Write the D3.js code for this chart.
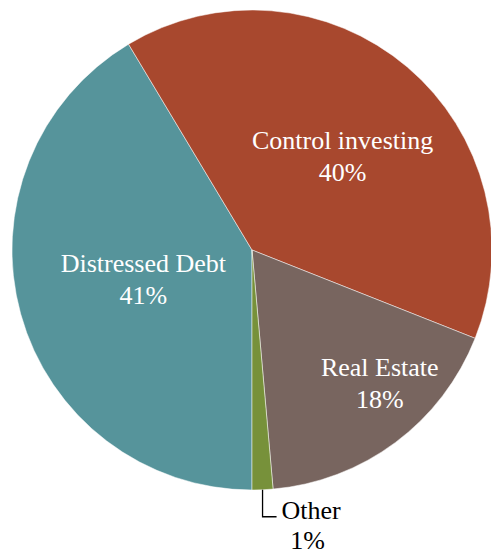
<!doctype html>
<html>
  <head>
      <script src="https://cdnjs.cloudflare.com/ajax/libs/d3/7.8.5/d3.min.js"></script>
      <style>
        body { margin: 0; background: #fff; }
        svg { display: block; }
        text { font-family: "Liberation Serif", "Times New Roman", serif; font-size: 26px; }
      </style>
  </head>
  <body>
    <svg width="491" height="552"></svg>
    <script>
       // slices in drawing order, clockwise starting at 6 o'clock
       var categories = ["Distressed Debt", "Control investing", "Real Estate", "Other"];
       var values = [41.4, 39.6, 17.6, 1.4];
       var colors = ["#56949b", "#a8482e", "#78655f", "#77913a"];

       var data = categories.map((c, i) => ({name: c, value: values[i], color: colors[i]}));

       var svg = d3.select("svg");
       var cx = 252, cy = 250, radius = 240;

       var pie = d3.pie()
           .value(d => d.value)
           .sort(null)
           .startAngle(Math.PI)
           .endAngle(3 * Math.PI);

       var arc = d3.arc().innerRadius(0).outerRadius(radius);

       var g = svg.append("g").attr("transform", "translate(" + cx + "," + cy + ")");
       var arcs = pie(data);

       g.selectAll("path")
           .data(arcs)
           .enter()
           .append("path")
           .attr("d", arc)
           .attr("fill", d => d.data.color)
           .attr("stroke", "#fff")
           .attr("stroke-width", 0.5);

       // label placement: fraction of radius + angle tweak (degrees)
       var place = {
           "Distressed Debt": [0.47, 0],
           "Control investing": [0.54, 4],
           "Real Estate": [0.77, -7]
       };
       var fmt = v => Math.round(v) + "%";

       arcs.forEach(function(d) {
           var p = place[d.data.name];
           if (!p) return;
           var a = (d.startAngle + d.endAngle) / 2 + p[1] * Math.PI / 180;
           var x = Math.sin(a) * radius * p[0];
           var y = -Math.cos(a) * radius * p[0];
           var t = g.append("text")
               .attr("text-anchor", "middle")
               .attr("fill", "#fff");
           t.append("tspan").attr("x", x).attr("y", y - 8).text(d.data.name);
           t.append("tspan").attr("x", x).attr("y", y + 24).text(fmt(d.data.value));
       });

       // small slice gets an outside label with leader line
       var other = arcs[3];
       var am = (other.startAngle + other.endAngle) / 2;
       var ex = Math.sin(am) * radius, ey = -Math.cos(am) * radius;
       var ly = ey + 27;
       g.append("path")
           .attr("d", "M" + ex + "," + ey + "V" + ly + "H" + (ex + 14))
           .attr("fill", "none")
           .attr("stroke", "#000")
           .attr("stroke-width", 1.3);
       var ot = g.append("text")
           .attr("fill", "#000");
       ot.append("tspan").attr("x", ex + 19).attr("y", ly + 2).text(other.data.name);
       ot.append("tspan").attr("x", ex + 45).attr("y", ly + 32).attr("text-anchor", "middle").text(fmt(other.data.value));
    </script>
  </body>
</html>
